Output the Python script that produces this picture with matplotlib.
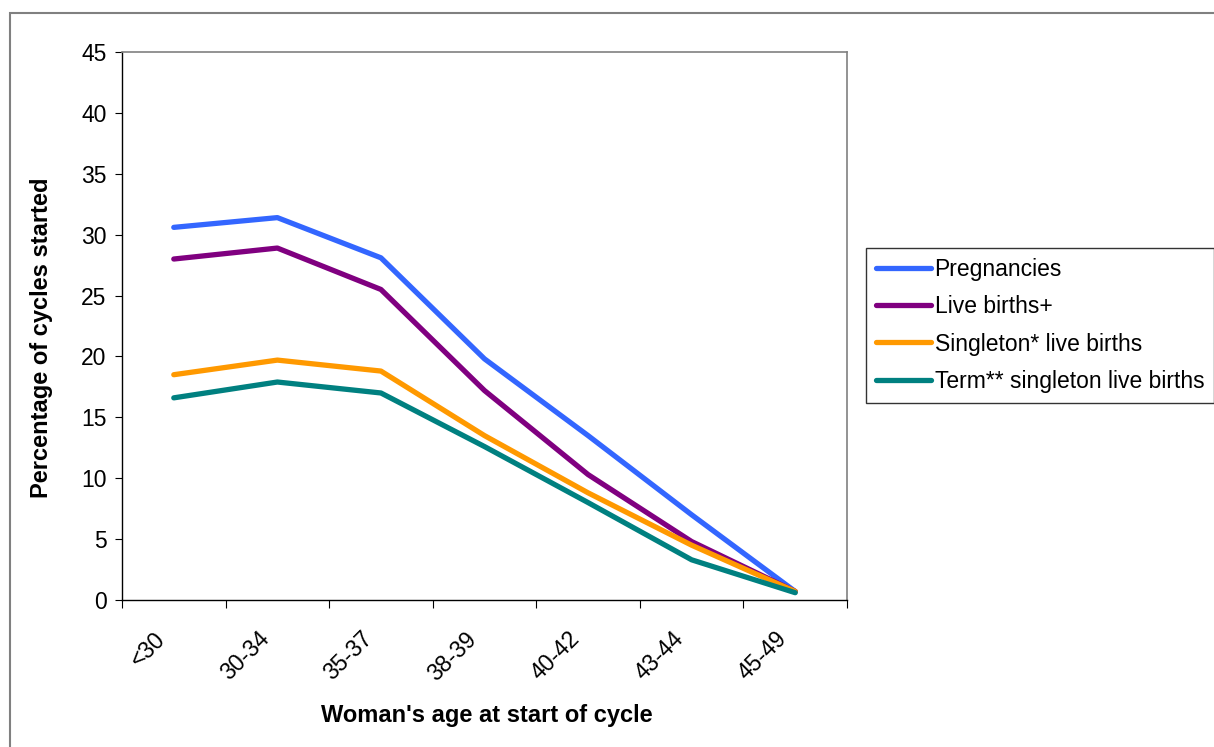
import matplotlib.pyplot as plt
import matplotlib.transforms as mtransforms
from matplotlib.patches import Rectangle

plt.rcParams['font.family'] = ['Liberation Sans', 'DejaVu Sans']

# age groups and success rates (% of cycles started)
ages = ["<30", "30-34", "35-37", "38-39", "40-42", "43-44", "45-49"]
pregnancies = [30.6, 31.4, 28.1, 19.8, 13.5, 7.0, 0.7]
live_births = [28.0, 28.9, 25.5, 17.2, 10.3, 4.8, 0.7]
singleton = [18.5, 19.7, 18.8, 13.5, 8.8, 4.5, 0.7]
term_singleton = [16.6, 17.9, 17.0, 12.6, 8.0, 3.3, 0.6]

series = [
    ("Pregnancies", pregnancies, "#3366FF"),
    ("Live births+", live_births, "#800080"),
    ("Singleton* live births", singleton, "#FF9900"),
    ("Term** singleton live births", term_singleton, "#008080"),
]

W, H = 1214, 747
fig = plt.figure(figsize=(W / 100, H / 100), dpi=100)

# grey frame around the chart area
fig.patches.append(Rectangle((10 / W, -0.1), 1.2, (H - 13) / H + 0.1,
                             transform=fig.transFigure, fill=False,
                             edgecolor="#808080", lw=1.5))

ax = fig.add_axes([122 / W, (H - 600) / H, 725 / W, 548 / H])

x = list(range(len(ages)))
for name, vals, col in series:
    ax.plot(x, vals, color=col, lw=3.8, label=name, solid_capstyle="round")

ax.set_xlim(-0.5, len(ages) - 0.5)
ax.set_ylim(0, 45)
ax.set_yticks(range(0, 46, 5))
ax.tick_params(axis="y", labelsize=16.5, length=5, direction="out", pad=6)

# tick marks on category boundaries, labels at centres
ax.set_xticks([i - 0.5 for i in range(len(ages) + 1)])
ax.set_xticklabels([])
ax.tick_params(axis="x", which="major", length=6, direction="out")
ax.set_xticks(x, minor=True)
ax.set_xticklabels(ages, minor=True, rotation=45, ha="right", va="top",
                   fontsize=16.5, rotation_mode="anchor")
ax.tick_params(axis="x", which="minor", length=0, pad=24)
shift = mtransforms.ScaledTranslation(-0.2, 0.06, fig.dpi_scale_trans)
for lbl in ax.get_xticklabels(minor=True):
    lbl.set_transform(lbl.get_transform() + shift)

for s in ["top", "right"]:
    ax.spines[s].set_color("#808080")
    ax.spines[s].set_linewidth(1.2)
for s in ["left", "bottom"]:
    ax.spines[s].set_color("black")
    ax.spines[s].set_linewidth(1.0)

ax.set_ylabel("Percentage of cycles started", fontsize=17, fontweight="bold")
ax.yaxis.set_label_coords(-0.095, 0.478)
ax.set_xlabel("Woman's age at start of cycle", fontsize=17, fontweight="bold")
ax.xaxis.set_label_coords(0.503, -0.19)

leg = fig.legend(loc="upper left", bbox_to_anchor=(866 / W, (H - 248) / H),
                 fontsize=16.5, frameon=True, fancybox=False,
                 handlelength=2.4, handletextpad=0.17, labelspacing=0.63,
                 borderpad=0.42, borderaxespad=0)
leg.get_frame().set_edgecolor("black")
leg.get_frame().set_linewidth(1.0)

fig.savefig("out.png", dpi=100)
